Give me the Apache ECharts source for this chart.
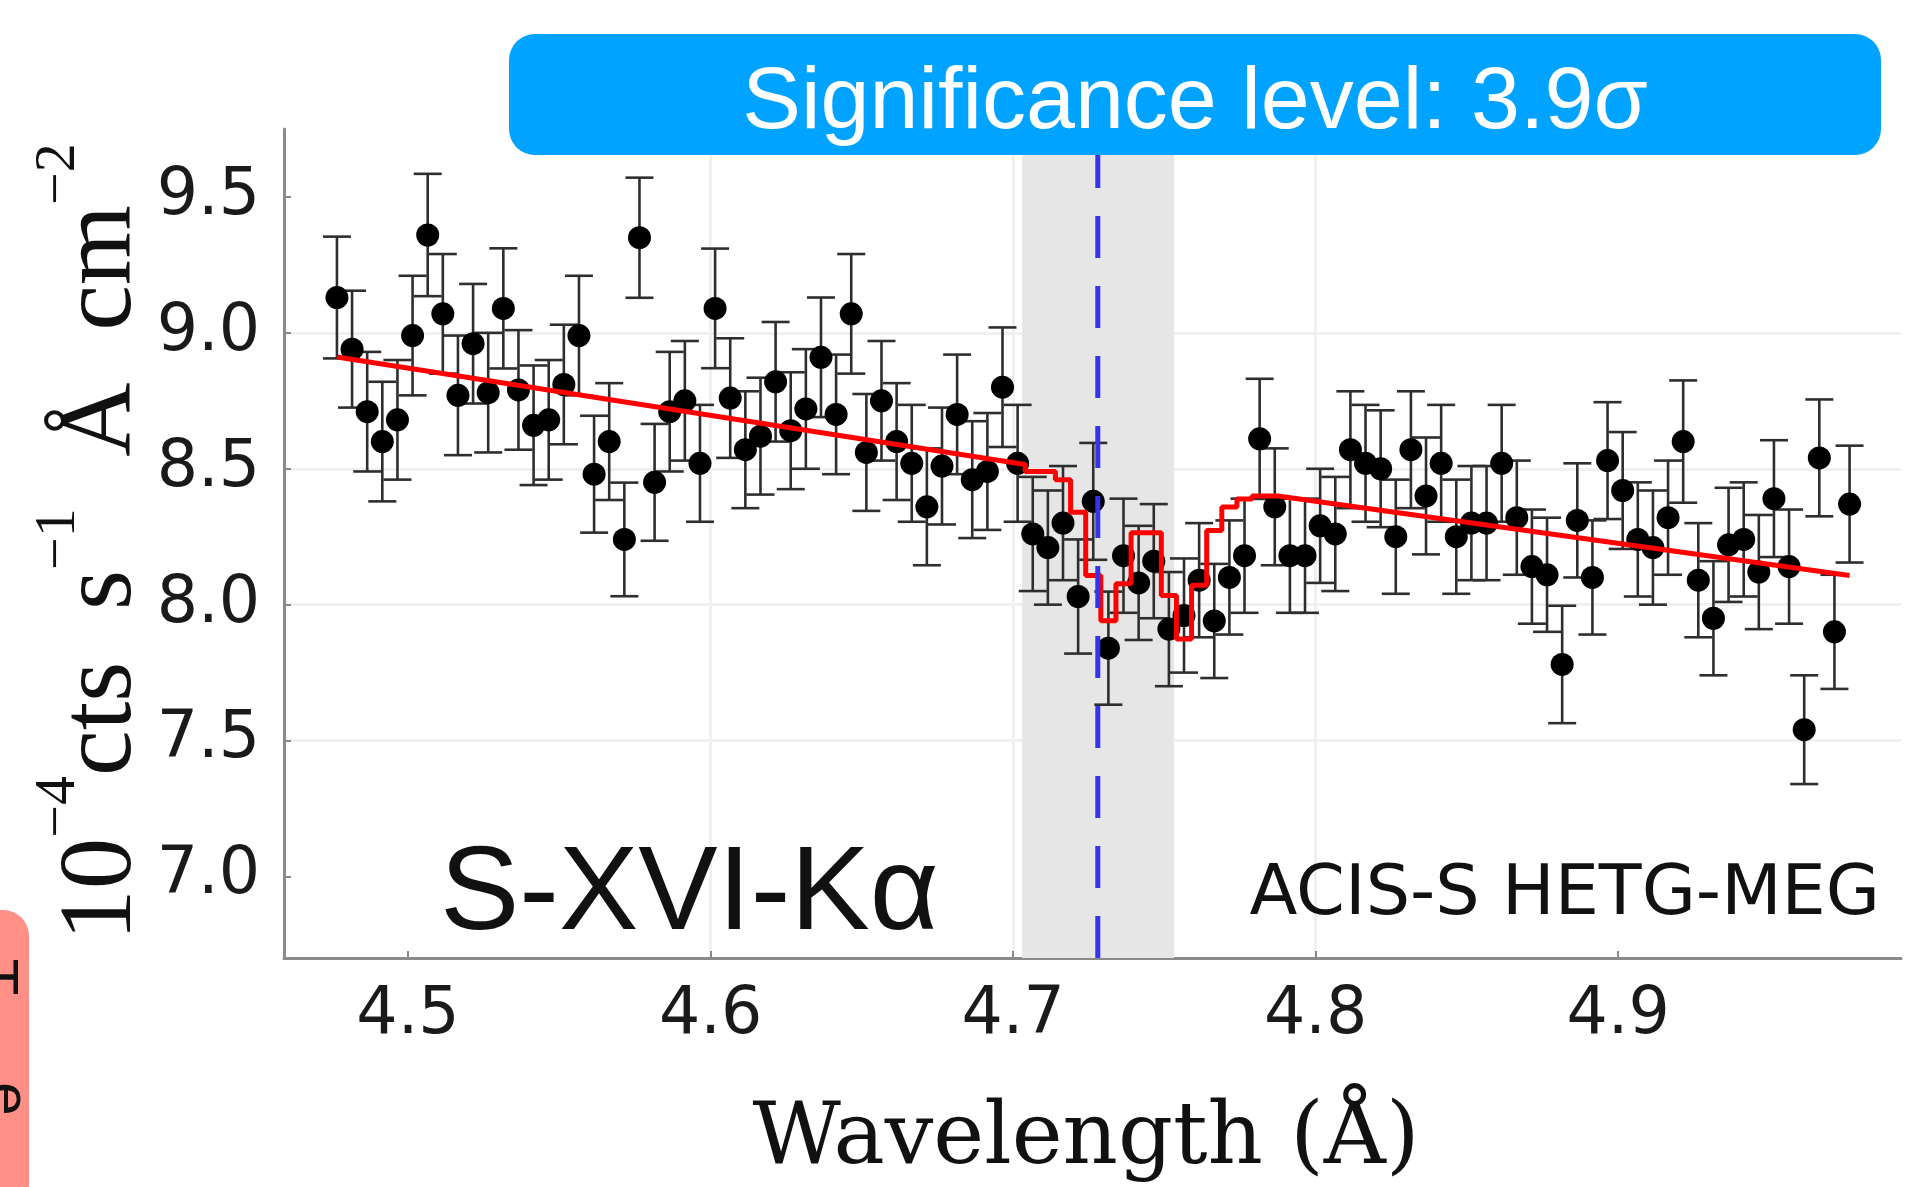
<!DOCTYPE html>
<html>
<head>
<meta charset="utf-8">
<script src="https://cdn.jsdelivr.net/npm/echarts@6/dist/echarts.min.js"></script>
<style>
html,body{margin:0;padding:0;background:#fff;}
#c{width:1931px;height:1187px;}
</style>
</head>
<body>
<div id="c"></div>
<script>
// ---- data ----
const waveData = [4.4765,4.4815,4.4865,4.4915,4.4965,4.5015,4.5065,4.5115,4.5165,4.5215,
4.5265,4.5315,4.5365,4.5415,4.5465,4.5515,4.5565,4.5615,4.5665,4.5715,
4.5765,4.5815,4.5865,4.5915,4.5965,4.6015,4.6065,4.6115,4.6165,4.6215,
4.6265,4.6315,4.6365,4.6415,4.6465,4.6515,4.6565,4.6615,4.6665,4.6715,
4.6765,4.6815,4.6865,4.6915,4.6965,4.7015,4.7065,4.7115,4.7165,4.7215,
4.7265,4.7315,4.7365,4.7415,4.7465,4.7515,4.7565,4.7615,4.7665,4.7715,
4.7765,4.7815,4.7865,4.7915,4.7965,4.8015,4.8065,4.8115,4.8165,4.8215,
4.8265,4.8315,4.8365,4.8415,4.8465,4.8515,4.8565,4.8615,4.8665,4.8715,
4.8765,4.8815,4.8865,4.8915,4.8965,4.9015,4.9065,4.9115,4.9165,4.9215,
4.9265,4.9315,4.9365,4.9415,4.9465,4.9515,4.9565,4.9615,4.9665,4.9715,4.9765];
const fluxData = [9.13,8.94,8.71,8.60,8.68,8.99,9.36,9.07,8.77,8.96,
8.78,9.09,8.79,8.66,8.68,8.81,8.99,8.48,8.60,8.24,
9.35,8.45,8.71,8.75,8.52,9.09,8.76,8.57,8.62,8.82,
8.64,8.72,8.91,8.70,9.07,8.56,8.75,8.60,8.52,8.36,
8.51,8.70,8.46,8.49,8.80,8.52,8.26,8.21,8.30,8.03,
8.38,7.84,8.18,8.08,8.16,7.91,7.96,8.09,7.94,8.10,
8.18,8.61,8.36,8.18,8.18,8.29,8.26,8.57,8.52,8.50,
8.25,8.57,8.40,8.52,8.25,8.30,8.30,8.52,8.32,8.14,
8.11,7.78,8.31,8.10,8.53,8.42,8.24,8.21,8.32,8.60,
8.09,7.95,8.22,8.24,8.12,8.39,8.14,7.54,8.54,7.90,8.37];
const errData = [0.224,0.215,0.22,0.22,0.22,0.22,0.225,0.22,0.22,0.22,
0.22,0.221,0.22,0.22,0.22,0.22,0.22,0.215,0.215,0.209,
0.221,0.215,0.22,0.22,0.215,0.22,0.22,0.215,0.215,0.22,
0.215,0.22,0.22,0.22,0.22,0.215,0.22,0.215,0.215,0.215,
0.215,0.22,0.215,0.215,0.22,0.215,0.21,0.21,0.21,0.21,
0.215,0.208,0.21,0.21,0.21,0.21,0.21,0.21,0.21,0.21,
0.21,0.221,0.215,0.21,0.21,0.21,0.21,0.215,0.215,0.215,
0.21,0.215,0.215,0.215,0.21,0.21,0.21,0.215,0.21,0.21,
0.21,0.216,0.21,0.21,0.215,0.215,0.21,0.21,0.21,0.225,
0.21,0.21,0.21,0.21,0.21,0.215,0.21,0.20,0.215,0.21,0.215];
// model (red) polyline vertices
const modelWave = [4.4765,4.704,4.704,4.714,4.714,4.719,4.719,4.724,4.724,4.729,4.729,4.734,4.734,4.739,4.739,4.749,4.749,4.754,4.754,4.759,4.759,4.764,4.764,4.769,4.769,4.774,4.774,4.779,4.779,4.7875,4.9765];
const modelFlux = [8.911,8.516,8.49,8.49,8.46,8.46,8.34,8.34,8.107,8.107,7.941,7.941,8.077,8.077,8.265,8.265,8.034,8.034,7.874,7.874,8.071,8.071,8.273,8.273,8.359,8.359,8.389,8.389,8.40,8.40,8.107];
const lineCenter = 4.728;
const bandRange = [4.703, 4.7532];
const xTicks = [4.5,4.6,4.7,4.8,4.9];
const yTicks = [7.0,7.5,8.0,8.5,9.0,9.5];
const titleText = 'Significance level: 3.9σ';
const lineLabel = 'S-XVI-Kα';
const instrLabel = 'ACIS-S HETG-MEG';
const xTitle = 'Wavelength (Å)';

// ---- chart ----
const X_MIN = 4.459, X_MAX = 4.9935, Y_MIN = 6.7, Y_MAX = 9.75;
const chart = echarts.init(document.getElementById('c'), null, {renderer:'canvas'});
const pts = waveData.map((w,i)=>[w, fluxData[i], errData[i]]);
const model = modelWave.map((w,i)=>[w, modelFlux[i]]);

const axisCol = '#8a8a8a';
const option = {
  animation:false,
  backgroundColor:'#ffffff',
  grid:{left:284, top:129, width:1617, height:829, containLabel:false},
  xAxis:{
    type:'value', min:X_MIN, max:X_MAX,
    axisLine:{show:true, onZero:false, lineStyle:{color:axisCol, width:3}},
    axisTick:{show:true, inside:true, length:7, customValues:xTicks, lineStyle:{color:axisCol, width:2}},
    axisLabel:{customValues:xTicks, margin:26, fontSize:65, fontFamily:'DejaVu Sans', color:'#1a1a1a',
      formatter:v=>v.toFixed(1)},
    splitLine:{show:true, showMinLine:false, showMaxLine:false, lineStyle:{color:'#f0f0f0', width:3}}
  },
  yAxis:{
    type:'value', min:Y_MIN, max:Y_MAX,
    axisLine:{show:true, onZero:false, lineStyle:{color:axisCol, width:3}},
    axisTick:{show:true, inside:true, length:7, customValues:yTicks, lineStyle:{color:axisCol, width:2}},
    axisLabel:{customValues:yTicks, margin:24, fontSize:65, fontFamily:'DejaVu Sans', color:'#1a1a1a',
      formatter:v=>v.toFixed(1)},
    splitLine:{show:true, showMinLine:false, showMaxLine:false, lineStyle:{color:'#f0f0f0', width:3}}
  },
  series:[
    {
      type:'line', data:[], z:1, silent:true,
      markArea:{silent:true, itemStyle:{color:'#e6e6e6'}, data:[[{xAxis:bandRange[0]},{xAxis:bandRange[1]}]]}
    },
    {
      type:'custom', z:2, data:pts, encode:{x:0,y:1},
      renderItem:function(params, api){
        const x = api.value(0), y = api.value(1), e = api.value(2);
        const t = api.coord([x, y+e]), b = api.coord([x, y-e]);
        const hw = 14;
        const st = {stroke:'#2e2e2e', lineWidth:2.6};
        return {type:'group', children:[
          {type:'line', shape:{x1:t[0],y1:t[1],x2:b[0],y2:b[1]}, style:st},
          {type:'line', shape:{x1:t[0]-hw,y1:t[1],x2:t[0]+hw,y2:t[1]}, style:st},
          {type:'line', shape:{x1:b[0]-hw,y1:b[1],x2:b[0]+hw,y2:b[1]}, style:st}
        ]};
      }
    },
    {
      type:'scatter', z:3, data:pts.map(p=>[p[0],p[1]]), symbol:'circle', symbolSize:23,
      itemStyle:{color:'#000000', opacity:1}
    },
    {
      type:'line', z:4, data:model, symbol:'none', lineStyle:{color:'#ff0000', width:5}
    },
    {
      type:'line', z:5, silent:true, symbol:'none',
      data:[[lineCenter, Y_MIN],[lineCenter, Y_MAX]],
      lineStyle:{color:'#3434ee', width:5, type:[42,28]}
    }
  ],
  graphic:[
    {type:'rect', z:100, shape:{x:509, y:34, width:1372, height:121, r:26}, style:{fill:'#00a3ff'}},
    {type:'text', z:101, x:1195, y:104, style:{text:titleText, fill:'#ffffff', fontSize:88,
      fontFamily:'Liberation Sans, Arial, sans-serif', align:'center', verticalAlign:'middle'}},
    {type:'text', z:101, x:440, y:896, style:{text:lineLabel, fill:'#111', fontSize:119,
      fontFamily:'Liberation Sans, Arial, sans-serif', align:'left', verticalAlign:'middle'}},
    {type:'text', z:101, x:1880, y:896, style:{text:instrLabel, fill:'#111', fontSize:70,
      fontFamily:'DejaVu Sans', align:'right', verticalAlign:'middle'}},
    {type:'text', z:101, x:1086, y:1141, style:{text:xTitle, fill:'#111', fontSize:86,
      fontFamily:'DejaVu Serif', align:'center', verticalAlign:'middle'}},
    {type:'text', z:101, x:92, y:542, rotation:Math.PI/2, style:{
      text:'{n|10}{s|−4}{n|cts  s}{s|−1}{n|  Å  cm}{s|−2}',
      align:'center', verticalAlign:'middle', fill:'#111',
      rich:{
        n:{fontSize:103, fontFamily:'Liberation Serif', lineHeight:124, verticalAlign:'bottom', fill:'#111'},
        s:{fontSize:58, fontFamily:'Liberation Serif', lineHeight:58, verticalAlign:'top', fill:'#111'}
      }}},
    {type:'rect', z:100, shape:{x:-30, y:910, width:59, height:300, r:26}, style:{fill:'#ff8f87'}},
    {type:'text', z:101, x:-36, y:977, rotation:-Math.PI/2, style:{text:'T', fill:'#111', fontSize:60,
      fontFamily:'Liberation Sans', align:'center', verticalAlign:'bottom'}},
    {type:'text', z:101, x:-24, y:1099, rotation:-Math.PI/2, style:{text:'e', fill:'#111', fontSize:60,
      fontFamily:'Liberation Sans', align:'center', verticalAlign:'bottom'}}
  ]
};
chart.setOption(option);
</script>
</body>
</html>
